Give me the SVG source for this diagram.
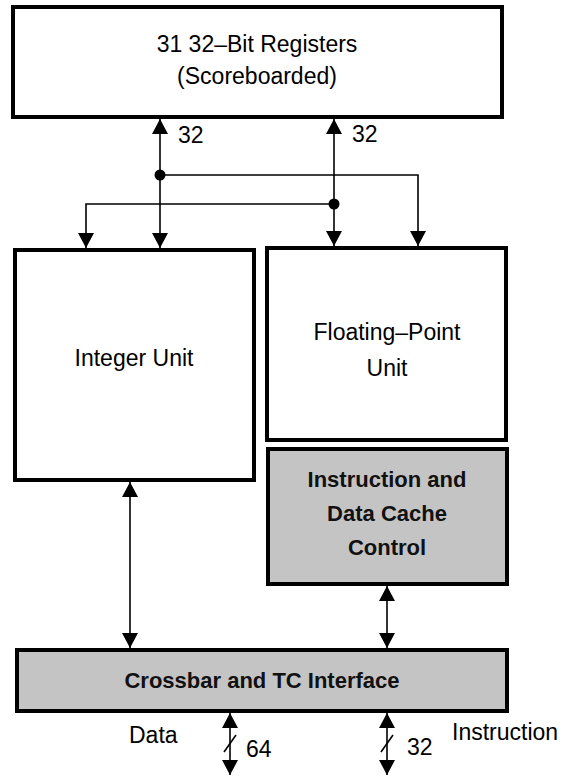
<svg xmlns="http://www.w3.org/2000/svg" width="567" height="776" viewBox="0 0 567 776">
<style>
.box{fill:#fff;stroke:#000;stroke-width:4}
.gray{fill:#c4c4c4;stroke:#000;stroke-width:4}
.t{font-family:"Liberation Sans",Arial,sans-serif;font-size:23px;fill:#000;text-anchor:middle}
.tb{font-family:"Liberation Sans",Arial,sans-serif;font-size:22px;font-weight:bold;fill:#111;text-anchor:middle}
.lbl{font-family:"Liberation Sans",Arial,sans-serif;font-size:23px;fill:#000}
.w{fill:none;stroke:#000;stroke-width:1.6}
</style>
<defs>
<marker id="ah" viewBox="0 0 15 16" refX="15" refY="8" markerWidth="15" markerHeight="16" markerUnits="userSpaceOnUse" orient="auto-start-reverse">
<path d="M0,0 L15,8 L0,16 Z" fill="#000"/>
</marker>
</defs>
<g id="registers">
<rect class="box" x="13" y="7" width="489" height="110"/>
<text class="t" x="257" y="52">31 32–Bit Registers</text>
<text class="t" x="257" y="84">(Scoreboarded)</text>
</g>
<g id="integer-unit">
<rect class="box" x="15" y="250" width="239" height="230"/>
<text class="t" x="134" y="366">Integer Unit</text>
</g>
<g id="fp-unit">
<rect class="box" x="267" y="248" width="239" height="192"/>
<text class="t" x="387" y="340">Floating–Point</text>
<text class="t" x="387" y="376">Unit</text>
</g>
<g id="cache-control">
<rect class="gray" x="268" y="449" width="239" height="135"/>
<text class="tb" x="387" y="487">Instruction and</text>
<text class="tb" x="387" y="521">Data Cache</text>
<text class="tb" x="387" y="555">Control</text>
</g>
<g id="crossbar">
<rect class="gray" x="17" y="650" width="490" height="61"/>
<text class="tb" x="262" y="688">Crossbar and TC Interface</text>
</g>
<g id="connectors">
<line class="w" x1="160" y1="119" x2="160" y2="248" marker-start="url(#ah)" marker-end="url(#ah)"/>
<line class="w" x1="334" y1="119" x2="334" y2="246" marker-start="url(#ah)" marker-end="url(#ah)"/>
<polyline class="w" points="160,175 418,175 418,246" marker-end="url(#ah)"/>
<polyline class="w" points="334,204 86,204 86,248" marker-end="url(#ah)"/>
<circle cx="160" cy="175" r="5.5" fill="#000"/>
<circle cx="334" cy="204" r="5.5" fill="#000"/>
<line class="w" x1="130" y1="482" x2="130" y2="648" marker-start="url(#ah)" marker-end="url(#ah)"/>
<line class="w" x1="387" y1="586" x2="387" y2="648" marker-start="url(#ah)" marker-end="url(#ah)"/>
<line class="w" x1="230" y1="713" x2="230" y2="775" marker-start="url(#ah)" marker-end="url(#ah)"/>
<line class="w" x1="387" y1="713" x2="387" y2="775" marker-start="url(#ah)" marker-end="url(#ah)"/>
<line class="w" x1="224" y1="752" x2="236" y2="735"/>
<line class="w" x1="381" y1="752" x2="393" y2="735"/>
<text class="lbl" x="178" y="143">32</text>
<text class="lbl" x="352" y="142">32</text>
<text class="lbl" x="129" y="743">Data</text>
<text class="lbl" x="246" y="757">64</text>
<text class="lbl" x="407" y="755">32</text>
<text class="lbl" x="452" y="740">Instruction</text>
</g>
</svg>
